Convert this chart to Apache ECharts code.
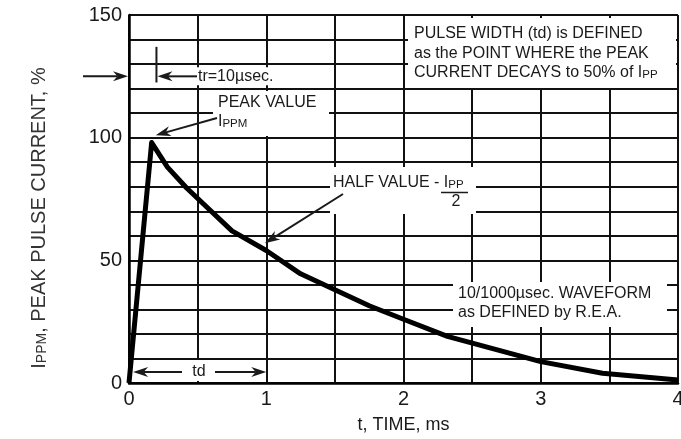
<!DOCTYPE html>
<html>
<head>
<meta charset="utf-8">
<script src="https://cdn.jsdelivr.net/npm/echarts@6/dist/echarts.min.js"></script>
<style>html,body{margin:0;padding:0;background:#fff}#main{width:681px;height:439px}</style>
</head>
<body>
<div id="main"></div>
<script>
// waveform: time (ms) and peak pulse current (%)
var timeMs = [0, 0.165, 0.28, 0.42, 0.75, 1.0, 1.25, 1.5, 1.75, 2.0, 2.32, 3.0, 3.45, 4.0];
var currentPct = [0, 98, 88, 79.5, 62, 54, 44.5, 38, 31.5, 26, 19, 8.7, 4, 1.2];
var xTickLabels = [0, 1, 2, 3, 4];
var yTickLabels = [0, 50, 100, 150];

var FONT = 'Liberation Sans';
var INK = '#1a1a1a';
var NOTE = 16;

var chartDom = document.getElementById('main');
var myChart = echarts.init(chartDom);

var seriesData = timeMs.map(function (t, i) { return [t, currentPct[i]]; });

var option = {
  animation: false,
  grid: { left: 129, right: 3, top: 15, bottom: 56, outerBoundsMode: 'none', containLabel: false },
  xAxis: {
    type: 'value', min: 0, max: 4, interval: 0.5,
    name: 't, TIME, ms', nameLocation: 'middle', nameGap: 33,
    nameTextStyle: { fontFamily: FONT, fontSize: 18, color: INK },
    axisLine: { show: true, onZero: false, lineStyle: { color: '#000', width: 2.5 } },
    axisTick: { show: false },
    splitLine: { show: true, lineStyle: { color: '#111', width: 2 } },
    axisLabel: {
      margin: 6, fontFamily: FONT, fontSize: 20, color: INK,
      formatter: function (v) { return xTickLabels.indexOf(v) >= 0 ? String(v) : ''; }
    }
  },
  yAxis: {
    type: 'value', min: 0, max: 150, interval: 10,
    axisLine: { show: true, onZero: false, lineStyle: { color: '#000', width: 2.5 } },
    axisTick: { show: false },
    splitLine: { show: true, lineStyle: { color: '#111', width: 2 } },
    axisLabel: {
      margin: 7, fontFamily: FONT, fontSize: 20, color: INK,
      formatter: function (v) { return yTickLabels.indexOf(v) >= 0 ? String(v) : ''; }
    }
  },
  series: [{
    type: 'line',
    data: seriesData,
    symbol: 'none',
    z: 5,
    lineStyle: { color: '#000', width: 5, join: 'round' }
  }]
};
myChart.setOption(option);

function px(t, v) { return myChart.convertToPixel({ gridIndex: 0 }, [t, v]); }

function arrow(x1, y1, x2, y2, len, w) {
  var dx = x2 - x1, dy = y2 - y1, d = Math.sqrt(dx * dx + dy * dy);
  var ux = dx / d, uy = dy / d, nx = -uy, ny = ux;
  var bx = x2 - ux * len, by = y2 - uy * len;
  var mx = x2 - ux * len * 0.7, my = y2 - uy * len * 0.7;
  return [
    { type: 'line', z: 110, shape: { x1: x1, y1: y1, x2: mx, y2: my }, style: { stroke: INK, lineWidth: 2 } },
    { type: 'polygon', z: 111, shape: { points: [[x2, y2], [bx + nx * w, by + ny * w], [mx, my], [bx - nx * w, by - ny * w]] }, style: { fill: INK } }
  ];
}
function box(x, y, w, h) {
  return { type: 'rect', z: 100, shape: { x: x, y: y, width: w, height: h }, style: { fill: '#fff' } };
}
function txt(x, y, s, size, extra) {
  var st = { text: s, fontFamily: FONT, fontSize: size || NOTE, fill: INK, align: 'left', verticalAlign: 'middle',
    rich: { s: { fontFamily: FONT, fontSize: 11.5, fill: INK, verticalAlign: 'bottom' },
            b: { fontFamily: FONT, fontSize: size || NOTE, fill: INK } } };
  if (extra) for (var k in extra) st[k] = extra[k];
  return { type: 'text', z: 120, x: x, y: y, style: st };
}

var g = [];
// tr = 10 usec marker
var trY = px(0, 125)[1];
var x0 = px(0, 0)[0];
var tickX = px(0.2, 0)[0];
g = g.concat(arrow(x0 - 46, trY, x0 - 1, trY, 15, 5));
g.push({ type: 'line', z: 110, shape: { x1: tickX, y1: px(0, 137)[1], x2: tickX, y2: px(0, 122.5)[1] }, style: { stroke: INK, lineWidth: 2 } });
g.push(box(196, trY - 9, 92, 18));
g = g.concat(arrow(197, trY, tickX + 1, trY, 15, 5));
g.push(txt(198, trY, 'tr=10\u00b5sec.'));

// pulse width note
g.push(box(408, 18, 268, 70));
g.push(txt(414, 34, 'PULSE WIDTH (td) is DEFINED'));
g.push(txt(414, 54, 'as the POINT WHERE the PEAK'));
g.push(txt(414, 73, '{b|CURRENT DECAYS to 50% of I}{s|PP}'));

// peak value
g.push(box(213, 91, 116, 45));
g.push(txt(218, 103, 'PEAK VALUE'));
g.push(txt(218, 122, '{b|I}{s|PPM}'));
var pk = px(0.195, 101);
g = g.concat(arrow(217, 118, pk[0], pk[1], 15, 5));

// half value
g.push(box(330, 167, 146, 47));
g.push(txt(333, 183, '{b|HALF VALUE - I}{s|PP}'));
g.push({ type: 'line', z: 120, shape: { x1: 441, y1: 192.5, x2: 468, y2: 192.5 }, style: { stroke: INK, lineWidth: 1.5 } });
g.push(txt(456, 202, '2', NOTE, { align: 'center' }));
var hv = px(0.99, 57);
g = g.concat(arrow(343, 194, hv[0], hv[1], 15, 5));

// waveform note
g.push(box(453, 282, 214, 45));
g.push(txt(458, 294, '10/1000\u00b5sec. WAVEFORM'));
g.push(txt(458, 313, 'as DEFINED by R.E.A.'));

// td span
var tdY = px(0, 4.5)[1];
var tdL = px(0.03, 0)[0], tdR = px(1.0, 0)[0];
g.push(box(183, 360, 32, 21));
g = g.concat(arrow(182, tdY, tdL, tdY, 15, 5));
g = g.concat(arrow(215, tdY, tdR, tdY, 15, 5));
g.push(txt(199, tdY, 'td', NOTE, { align: 'center' }));

// y axis title
g.push({ type: 'text', z: 120, x: 39, y: 218, rotation: Math.PI / 2,
  style: { text: '{b|I}{s|PPM}{b|, PEAK PULSE CURRENT, %}', fontFamily: FONT, fontSize: 20, fill: '#333', align: 'center', verticalAlign: 'middle',
    rich: { b: { fontFamily: FONT, fontSize: 20, fill: '#333' }, s: { fontFamily: FONT, fontSize: 14, fill: '#333', verticalAlign: 'bottom' } } } });

myChart.setOption({ graphic: { elements: g } });
</script>
</body>
</html>
